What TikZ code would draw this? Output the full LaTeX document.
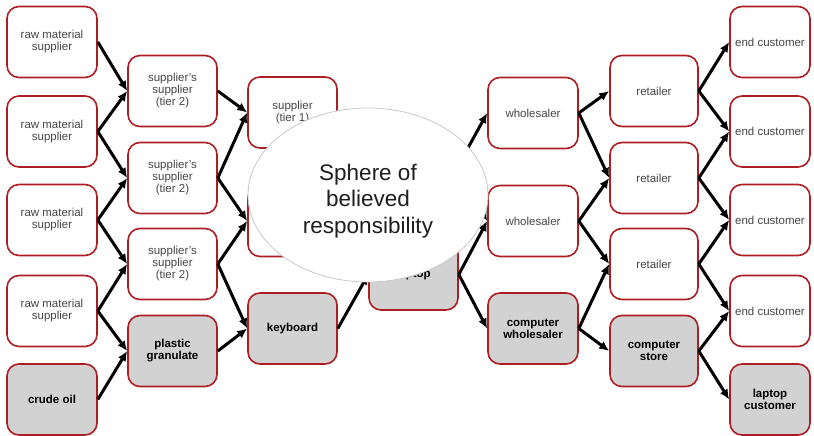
\documentclass[tikz,border=0pt]{standalone}
\usepackage{fontspec}
\setmainfont{Liberation Sans}
\usetikzlibrary{arrows.meta,calc,shapes.geometric}
\definecolor{boxred}{RGB}{172,30,36}
\definecolor{boxgray}{RGB}{210,210,210}
\definecolor{txtgray}{RGB}{70,70,70}
\definecolor{ringgray}{RGB}{200,200,200}
\begin{document}
\begin{tikzpicture}[x=1pt,y=-1pt,
  box/.style={draw=boxred, line width=1.6pt, rounded corners=12pt, fill=white,
    minimum height=71pt, minimum width=89pt, inner sep=0pt, align=center,
    text=txtgray, font=\fontsize{11.5}{12}\selectfont},
  wide/.style={minimum width=90pt},
  narrow/.style={minimum width=80pt},
  hl/.style={fill=boxgray, text=black, font=\fontsize{11.5}{12}\selectfont\bfseries},
  arr/.style={line width=3pt, -{Latex[length=10pt,width=9pt]}},
  sphere/.style={ellipse, draw=ringgray, line width=0.8pt, fill=white,
    minimum width=240pt, minimum height=174pt, inner sep=0pt}
]
\useasboundingbox (0,0) rectangle (814,436);
% column 0: raw material
\node[box,wide] (raw1) at (52,42) {raw material\\supplier};
\node[box,wide] (raw2) at (52,131.5) {raw material\\supplier};
\node[box,wide] (raw3) at (52,220) {raw material\\supplier};
\node[box,wide] (raw4) at (52,311) {raw material\\supplier};
\node[box,wide,hl] (crude) at (52,399.5) {crude oil};
% column 1: tier 2
\node[box] (t2a) at (172.5,91) {supplier's\\supplier\\(tier 2)};
\node[box] (t2b) at (172.5,178) {supplier's\\supplier\\(tier 2)};
\node[box] (t2c) at (172.5,264) {supplier's\\supplier\\(tier 2)};
\node[box,hl] (plastic) at (172.5,351) {plastic\\granulate};
% column 2: tier 1
\node[box] (t1a) at (292.5,112.5) {supplier\\(tier 1)};
\node[box] (t1b) at (292.5,221) {};
\node[box,hl] (keyb) at (292.5,328.5) {keyboard};
% column 3
\node[box,hl] (laptop) at (413.5,274.5) {laptop};
\coordinate (hub) at (458,166);
% column 4
\node[box,wide] (wh1) at (533,113) {wholesaler};
\node[box,wide] (wh2) at (533,221) {wholesaler};
\node[box,wide,hl] (cw) at (533,328.5) {computer\\wholesaler};
% column 5
\node[box,minimum width=88pt] (r1) at (654,91) {retailer};
\node[box,minimum width=88pt] (r2) at (654,178) {retailer};
\node[box,minimum width=88pt] (r3) at (654,264) {retailer};
\node[box,minimum width=88pt,hl] (store) at (654,351) {computer\\store};
% column 6
\node[box,narrow] (e1) at (770,42) {end customer};
\node[box,narrow] (e2) at (770,131.5) {end customer};
\node[box,narrow] (e3) at (770,220) {end customer};
\node[box,narrow] (e4) at (770,311) {end customer};
\node[box,narrow,hl] (lc) at (770,399.5) {laptop\\customer};
% connectors
\draw[arr] (raw1.east) -- (t2a.west);
\draw[arr] (raw2.east) -- (t2a.west);
\draw[arr] (raw2.east) -- (t2b.west);
\draw[arr] (raw3.east) -- (t2b.west);
\draw[arr] (raw3.east) -- (t2c.west);
\draw[arr] (raw4.east) -- (t2c.west);
\draw[arr] (raw4.east) -- (plastic.west);
\draw[arr] (crude.east) -- (plastic.west);
\draw[arr] (t2a.east) -- (t1a.west);
\draw[arr] (t2b.east) -- (t1a.west);
\draw[arr] (t2b.east) -- (t1b.west);
\draw[arr] (t2c.east) -- (t1b.west);
\draw[arr] (t2c.east) -- (keyb.west);
\draw[arr] (plastic.east) -- (keyb.west);
\draw[arr] (t1b.east) -- (laptop.west);
\draw[arr] (keyb.east) -- (laptop.west);
\draw[arr] (hub) -- (wh1.west);
\draw[arr] (hub) -- (wh2.west);
\draw[arr] (laptop.east) -- (wh2.west);
\draw[arr] (laptop.east) -- (cw.west);
\draw[arr] (wh1.east) -- (r1.west);
\draw[arr] (wh1.east) -- (r2.west);
\draw[arr] (wh2.east) -- (r2.west);
\draw[arr] (wh2.east) -- (r3.west);
\draw[arr] (cw.east) -- (r3.west);
\draw[arr] (cw.east) -- (store.west);
\draw[arr] (r1.east) -- (e1.west);
\draw[arr] (r1.east) -- (e2.west);
\draw[arr] (r2.east) -- (e2.west);
\draw[arr] (r2.east) -- (e3.west);
\draw[arr] (r3.east) -- (e3.west);
\draw[arr] (r3.east) -- (e4.west);
\draw[arr] (store.east) -- (e4.west);
\draw[arr] (store.east) -- (lc.west);
% sphere
\node[sphere] (sph) at (368,195) {};
\node[align=center, text={rgb,255:red,30;green,30;blue,30}, font=\fontsize{22.5}{26.5}\selectfont] (sphtxt) at (368,201) {Sphere of\\believed\\responsibility};
\end{tikzpicture}
\end{document}
